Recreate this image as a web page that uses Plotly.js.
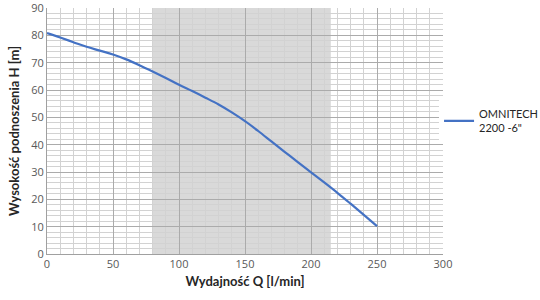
<!DOCTYPE html>
<html><head><meta charset="utf-8">
<script src="https://cdn.plot.ly/plotly-3.0.1.min.js"></script>
<style>html,body{margin:0;padding:0;background:#fff}#c{width:540px;height:300px}</style>
</head><body><div id="c"></div>
<script>
const flow = [0, 10, 20, 30, 40, 50, 60, 70, 80, 90, 100, 110, 120, 130, 140, 150, 160, 170, 180, 190, 200, 210, 220, 230, 240, 250];
const head = [80.8, 79.2, 77.5, 75.8, 74.4, 73.0, 71.2, 69.1, 66.8, 64.4, 61.9, 59.6, 57.2, 54.7, 51.8, 48.6, 45.0, 41.2, 37.4, 33.6, 29.9, 26.2, 22.4, 18.4, 14.3, 10.2];
const seriesName = "OMNITECH<br>2200 -6\"";
const bandStart = 80, bandEnd = 215;
const xTicks = [0, 50, 100, 150, 200, 250, 300];
const yTicks = [0, 10, 20, 30, 40, 50, 60, 70, 80, 90];

const trace = {x: flow, y: head, type: 'scatter', mode: 'lines', name: seriesName,
  line: {color: '#4472c4', width: 2.2, shape: 'spline', smoothing: 1}};

const titleFont = {size: 13, color: '#262626', family: 'Lato, Open Sans, sans-serif', weight: 'bold'};
const layout = {
  width: 540, height: 300,
  margin: {l: 47, r: 97, t: 8, b: 46, autoexpand: false},
  paper_bgcolor: '#fff', plot_bgcolor: '#fff',
  font: {family: 'Open Sans, Liberation Sans, sans-serif', color: '#595959'},
  showlegend: true,
  legend: {x: 0.99, y: 0.54, xanchor: 'left', yanchor: 'middle', font: {size: 11, color: '#262626', family: 'Lato, Open Sans, sans-serif'}, itemwidth: 30},
  xaxis: {range: [0, 300], tickvals: xTicks, ticktext: xTicks.map(String), showgrid: true, gridcolor: '#ababab', gridwidth: 1,
    minor: {dtick: 10, showgrid: true, gridcolor: '#d2d2d2', gridwidth: 1},
    zeroline: false, showline: true, linecolor: '#a0a0a0', ticks: '', tickfont: {size: 11, color: '#595959'}, ticklabeloverflow: 'allow',
    title: {text: 'Wydajność Q [l/min]', font: titleFont, standoff: 6}},
  yaxis: {range: [0, 90], tickvals: yTicks, ticktext: yTicks.map(String), showgrid: true, gridcolor: '#ababab', gridwidth: 1,
    minor: {dtick: 2, showgrid: true, gridcolor: '#d2d2d2', gridwidth: 1},
    zeroline: false, showline: true, linecolor: '#a0a0a0', ticks: '', tickfont: {size: 11, color: '#595959'}, ticklabeloverflow: 'allow',
    title: {text: 'Wysokość podnoszenia H [m]', font: titleFont, standoff: 8}},
  shapes: [{type: 'rect', xref: 'x', yref: 'paper', x0: bandStart, x1: bandEnd, y0: 0, y1: 1, fillcolor: '#d9d9d9', line: {width: 0}, layer: 'below'}]
};
Plotly.newPlot('c', [trace], layout, {staticPlot: true, displayModeBar: false});
</script></body></html>
